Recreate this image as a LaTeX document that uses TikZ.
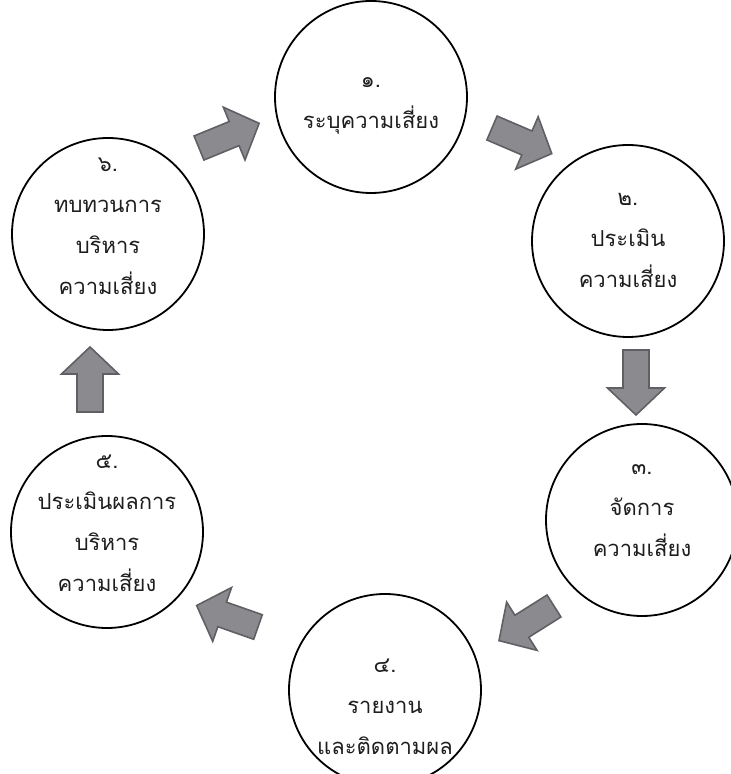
\documentclass[tikz,border=0pt]{standalone}
\usepackage{fontspec}
\newfontfamily\thaifont[Script=Thai]{Loma}
\definecolor{arrowfill}{RGB}{138,138,143}
\definecolor{arrowedge}{RGB}{95,95,100}
\definecolor{textcol}{RGB}{30,30,30}
\tikzset{
  stage/.style={circle, draw=black, line width=1.8pt, minimum size=192pt, inner sep=0pt},
  stagetext/.style={align=center, text=textcol, font=\thaifont\fontsize{22}{41}\selectfont, inner sep=0pt},
  blockarrow/.pic={\draw[fill=arrowfill, draw=arrowedge, line width=1.6pt, line join=miter]
      (0,-13) -- (38,-13) -- (38,-28.5) -- (65,0) -- (38,28.5) -- (38,13) -- (0,13) -- cycle;}
}
\begin{document}
\begin{tikzpicture}[x=1pt,y=1pt]
\useasboundingbox (0,0) rectangle (731,774);
\begin{scope}
\clip (0,0) rectangle (731,774);
\node[stage] (c1) at (371,677) {};
\node[stage] (c2) at (628,533) {};
\node[stage] (c3) at (642,254) {};
\node[stage] (c4) at (385,84) {};
\node[stage] (c5) at (107,242) {};
\node[stage] (c6) at (108,540) {};
\end{scope}
\node[stagetext] (t1) at (371,668) {๑.\\ระบุความเสี่ยง};
\node[stagetext] (t2) at (628,534) {๒.\\ประเมิน\\ความเสี่ยง};
\node[stagetext] (t3) at (642,263) {๓.\\จัดการ\\ความเสี่ยง};
\node[stagetext] (t4) at (385,67) {๔.\\รายงาน\\และติดตามผล};
\node[stagetext] (t5) at (107,251) {๕.\\ประเมินผลการ\\บริหาร\\ความเสี่ยง};
\node[stagetext] (t6) at (108,548) {๖.\\ทบทวนการ\\บริหาร\\ความเสี่ยง};
\coordinate (a1) at (199,626);
\coordinate (a2) at (492,646);
\coordinate (a3) at (636,424);
\coordinate (a4) at (554,168);
\coordinate (a5) at (258,147);
\coordinate (a6) at (90,362);
\pic[rotate=22.3] at (a1) {blockarrow};
\pic[rotate=-23.2] at (a2) {blockarrow};
\pic[rotate=-90] at (a3) {blockarrow};
\pic[rotate=212.2] at (a4) {blockarrow};
\pic[rotate=160.7] at (a5) {blockarrow};
\pic[rotate=90] at (a6) {blockarrow};
\end{tikzpicture}
\end{document}
